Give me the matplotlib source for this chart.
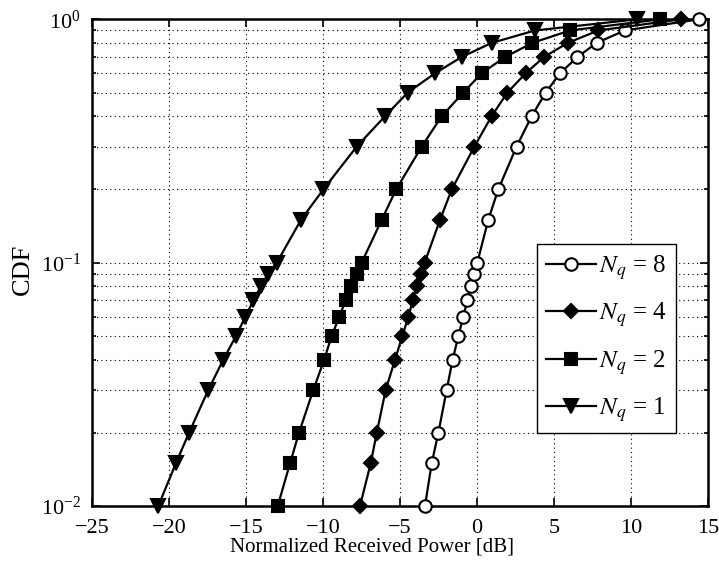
import matplotlib
matplotlib.use("Agg")
import matplotlib.pyplot as plt
import numpy as np
from matplotlib.ticker import LogLocator, NullFormatter, FixedLocator

plt.rcParams['font.family'] = ['Liberation Serif', 'DejaVu Serif']
plt.rcParams['mathtext.fontset'] = 'stix'

cdf_levels = [0.01, 0.015, 0.02, 0.03, 0.04, 0.05, 0.06, 0.07, 0.08, 0.09, 0.1,
              0.15, 0.2, 0.3, 0.4, 0.5, 0.6, 0.7, 0.8, 0.9, 1.0]

power_nq8 = [-3.38, -2.94, -2.51, -1.97, -1.58, -1.21, -0.89, -0.63, -0.41, -0.19, 0.02,
             0.73, 1.38, 2.57, 3.55, 4.46, 5.39, 6.52, 7.77, 9.6, 14.4]
power_nq4 = [-7.6, -6.9, -6.51, -5.93, -5.32, -4.85, -4.45, -4.18, -3.92, -3.62, -3.4,
             -2.4, -1.64, -0.17, 0.95, 1.97, 3.16, 4.35, 5.89, 7.88, 13.25]
power_nq2 = [-12.94, -12.14, -11.56, -10.63, -9.92, -9.44, -8.94, -8.53, -8.2, -7.81, -7.49,
             -6.19, -5.25, -3.59, -2.29, -0.89, 0.3, 1.82, 3.6, 6.04, 11.9]
power_nq1 = [-20.7, -19.55, -18.7, -17.45, -16.47, -15.65, -15.04, -14.52, -14.03, -13.55, -13.0,
             -11.43, -9.98, -7.81, -5.97, -4.5, -2.73, -1.0, 0.95, 3.77, 10.4]

series = [
    ("$N_{q}$ = 8", power_nq8, 'o', 'white', 9),
    ("$N_{q}$ = 4", power_nq4, 'D', 'black', 7.5),
    ("$N_{q}$ = 2", power_nq2, 's', 'black', 8),
    ("$N_{q}$ = 1", power_nq1, 'v', 'black', 10),
]

x_ticks = [-25, -20, -15, -10, -5, 0, 5, 10, 15]

fig = plt.figure(figsize=(7.19, 5.65), dpi=100)
ax = fig.add_axes([0.128, 0.1044, 0.8567, 0.8614])

for label, xs, mk, fc, ms in series:
    ax.plot(xs, cdf_levels, '-', color='black', lw=1.6, marker=mk,
            markerfacecolor=fc, markeredgecolor='black', markeredgewidth=1.5,
            markersize=ms, label=label, clip_on=False, zorder=3)

ax.set_yscale('log')
ax.set_xlim(-25, 15)
ax.set_ylim(1e-2, 1e0)
ax.xaxis.set_major_locator(FixedLocator(x_ticks))
ax.set_xticklabels(['\u2212%d' % -t if t < 0 else '%d' % t for t in x_ticks])
ax.yaxis.set_major_locator(LogLocator(base=10, numticks=10))
ax.yaxis.set_minor_locator(LogLocator(base=10, subs=np.arange(2, 10), numticks=10))
ax.yaxis.set_minor_formatter(NullFormatter())

ax.grid(True, which='major', axis='both', linestyle=(0, (1, 3)), color='black', lw=0.8)
ax.grid(True, which='minor', axis='y', linestyle=(0, (1, 3)), color='black', lw=0.8)

ax.tick_params(which='both', direction='in', top=True, right=True, labelsize=16, width=1.2)
ax.tick_params(axis='x', which='major', length=6, pad=9)
ax.tick_params(axis='y', which='major', length=6, pad=8)
ax.tick_params(which='minor', length=3)
for sp in ax.spines.values():
    sp.set_linewidth(1.8)

ax.set_xlabel('Normalized Received Power [dB]', fontsize=15, labelpad=0)
ax.xaxis.set_label_coords(0.455, -0.065, transform=ax.transAxes)
ax.xaxis.label.set_verticalalignment('top')
ax.set_ylabel('CDF', fontsize=19, labelpad=2)
ax.yaxis.set_label_coords(-0.095, 0.487, transform=ax.transAxes)

leg = ax.legend(loc='upper left', bbox_to_anchor=(0.722, 0.538), fontsize=18,
                frameon=True, fancybox=False, edgecolor='black', framealpha=1,
                handlelength=2.0, handletextpad=0.15, borderpad=0.35, labelspacing=0.75,
                borderaxespad=0)
leg.get_frame().set_linewidth(1.0)

fig.savefig('out.png', dpi=100)
